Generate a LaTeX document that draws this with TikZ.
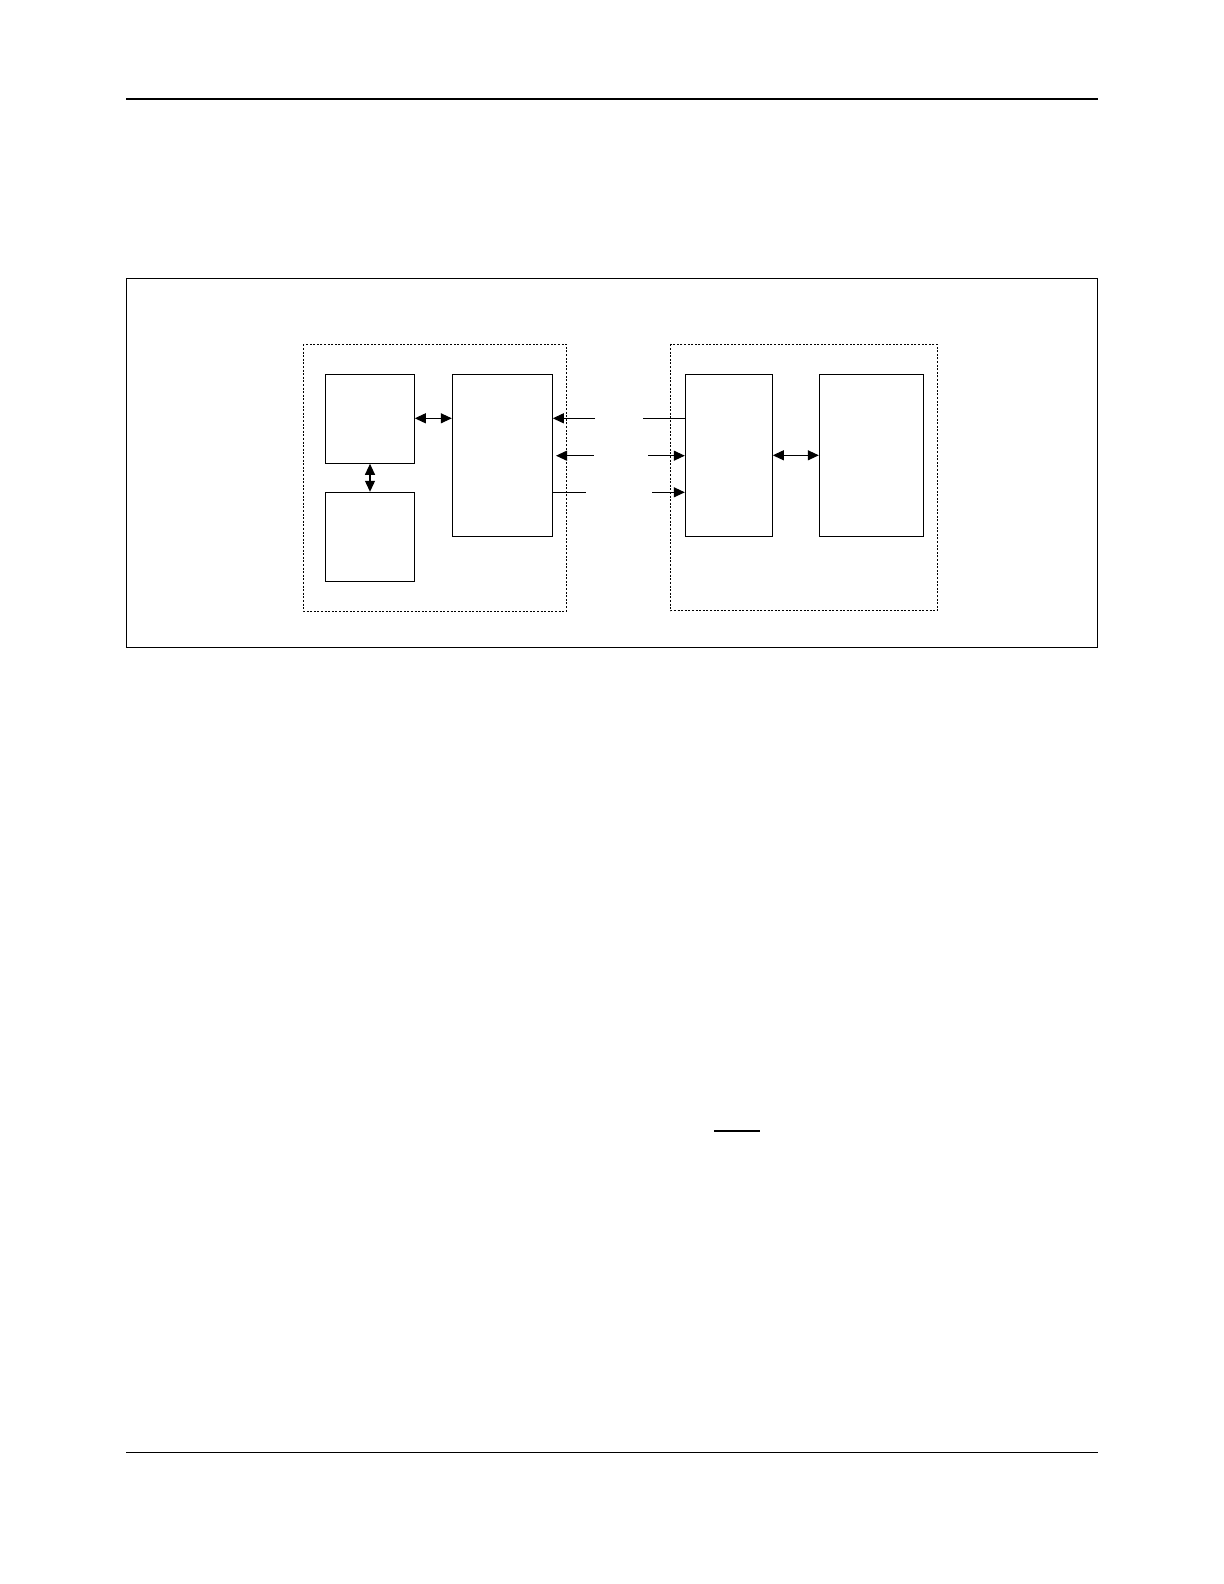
\documentclass[tikz,border=0pt]{standalone}
\usetikzlibrary{arrows.meta}
\begin{document}
\begin{tikzpicture}[x=0.5pt,y=-0.5pt,
  blk/.style={draw,line width=0.5pt,inner sep=0pt,anchor=north west},
  grp/.style={draw,line width=0.45pt,dash pattern=on 1pt off 0.8pt},
  conn/.style={line width=0.55pt},
  tip/.style={-{Triangle[length=5.5pt,width=5pt]}},
  btip/.style={{Triangle[length=5.5pt,width=5pt]}-{Triangle[length=5.5pt,width=5pt]}}]
\useasboundingbox (0,0) rectangle (1224,1584);
% page rules
\draw[line width=1pt] (126,99) -- (1098,99);
\draw[line width=0.5pt] (126,1452.3) -- (1098,1452.3);
\draw[line width=1pt] (714,1130.7) -- (760,1130.7);
% outer frame
\draw[line width=0.6pt] (126.3,278.7) rectangle (1097.7,647.3);
% dashed groups
\draw[grp] (303.3,344.3) rectangle (566.3,611);
\draw[grp] (670.3,344.3) rectangle (937.3,610.7);
% blocks
\node[blk,minimum width=44.3pt,minimum height=44.5pt] (A) at (325.2,373.8) {};
\node[blk,minimum width=44.3pt,minimum height=44.35pt] (B) at (325.2,491.8) {};
\node[blk,minimum width=50pt,minimum height=80.85pt] (C) at (451.8,373.8) {};
\node[blk,minimum width=43.5pt,minimum height=81pt] (D) at (684.8,373.8) {};
\node[blk,minimum width=52.2pt,minimum height=81pt] (E) at (818.8,373.8) {};
% internal connectors
\draw[conn,btip] (A.east |- 0,418.3) -- (C.west |- 0,418.3);
\draw[conn,btip] (A.south) -- (B.north);
\draw[conn,btip] (D.east) -- (E.west);
% signal rows between groups
\coordinate (r1l) at (595,418.3);
\coordinate (r1r) at (643,418.3);
\coordinate (r2a) at (593.7,455.7);
\coordinate (r2b) at (556,455.7);
\coordinate (r2r) at (648,455.7);
\coordinate (r3l) at (585.7,492.3);
\coordinate (r3r) at (652,492.3);
\draw[conn,tip] (r1l) -- (r1l -| C.east);
\draw[conn] (r1r) -- (r1r -| D.west);
\draw[conn,tip] (r2a) -- (r2b);
\draw[conn,tip] (r2r) -- (r2r -| D.west);
\draw[conn] (r3l -| C.east) -- (r3l);
\draw[conn,tip] (r3r) -- (r3r -| D.west);
\end{tikzpicture}
\end{document}
